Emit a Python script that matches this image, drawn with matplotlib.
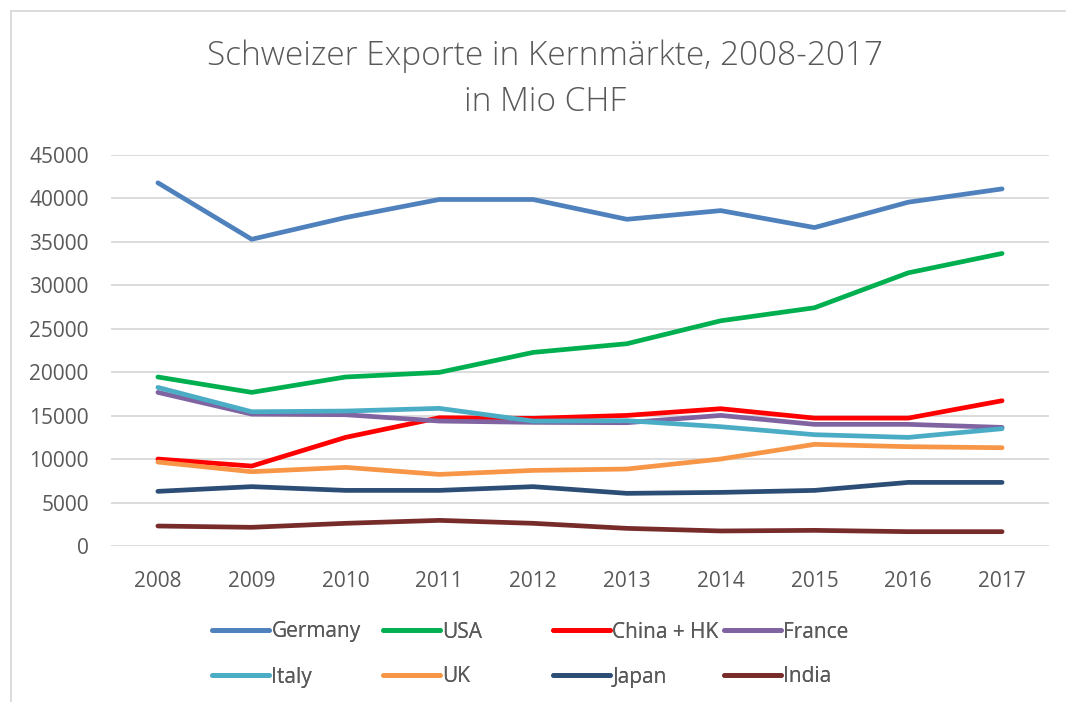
import matplotlib
matplotlib.use('Agg')
import matplotlib.pyplot as plt
from matplotlib.patches import Rectangle

plt.rcParams['font.family'] = ['Open Sans', 'DejaVu Sans']

# data (Mio CHF)
years = [2008, 2009, 2010, 2011, 2012, 2013, 2014, 2015, 2016, 2017]
germany = [41800, 35300, 37800, 39880, 39880, 37600, 38600, 36650, 39570, 41100]
usa = [19450, 17680, 19450, 19980, 22280, 23280, 25920, 27420, 31440, 33670]
china_hk = [10010, 9200, 12500, 14760, 14690, 15030, 15800, 14720, 14720, 16720]
france = [17680, 15180, 15110, 14380, 14230, 14190, 15030, 14000, 14000, 13650]
italy = [18250, 15450, 15530, 15840, 14380, 14420, 13730, 12810, 12500, 13500]
uk = [9660, 8550, 9050, 8240, 8700, 8860, 10010, 11700, 11430, 11310]
japan = [6290, 6830, 6400, 6400, 6830, 6060, 6170, 6400, 7320, 7320]
india = [2300, 2150, 2610, 2950, 2610, 2030, 1730, 1800, 1650, 1650]

series = [
    ('Germany', germany, '#4F81BD'),
    ('USA', usa, '#00B050'),
    ('China + HK', china_hk, '#FF0000'),
    ('France', france, '#8064A2'),
    ('Italy', italy, '#4BACC6'),
    ('UK', uk, '#F79646'),
    ('Japan', japan, '#2C4D75'),
    ('India', india, '#772C2A'),
]
y_ticks = [0, 5000, 10000, 15000, 20000, 25000, 30000, 35000, 40000, 45000]

W, H = 1066, 702
fig = plt.figure(figsize=(W / 100, H / 100), dpi=100)
ax = fig.add_axes([111 / W, 1 - 546 / H, (1049 - 111) / W, (546 - 155) / H])

txt = '#595959'
lines = []
for name, vals, col in series:
    ln, = ax.plot(years, vals, color=col, lw=3.4, solid_capstyle='round',
                  solid_joinstyle='round', label=name)
    lines.append(ln)

ax.set_xlim(2007.5, 2017.5)
ax.set_ylim(0, 45000)
ax.set_xticks(years)
ax.set_yticks(y_ticks)
ax.set_xticklabels([str(y) for y in years])
ax.grid(axis='y', color='#D9D9D9', lw=1.3)
ax.set_axisbelow(True)
for s in ax.spines.values():
    s.set_visible(False)
ax.tick_params(length=0, labelsize=15, colors=txt)
ax.tick_params(axis='y', pad=16)
ax.tick_params(axis='x', pad=18)

# title (two lines)
fig.text(545 / W, 1 - 56 / H, 'Schweizer Exporte in Kernmärkte, 2008-2017',
         ha='center', va='center', fontsize=24, color=txt, fontweight='light')
fig.text(545 / W, 1 - 102 / H, 'in Mio CHF',
         ha='center', va='center', fontsize=24, color=txt, fontweight='light')

# legend, 4 columns x 2 rows
col_x = [212, 382.5, 553, 723.5]
row_y = [632, 677]
for i, ln in enumerate(lines):
    lx = col_x[i % 4]
    ly = row_y[i // 4]
    leg = fig.legend(handles=[ln], loc='center left',
                     bbox_to_anchor=(lx / W, 1 - ly / H), frameon=False,
                     fontsize=15, handlelength=2.75, handletextpad=0.1,
                     borderpad=0, borderaxespad=0, labelcolor=txt)
    fig.add_artist(leg)

# chart border
fig.add_artist(Rectangle((11 / W, -0.1), 1.2, 1 - 11 / H + 0.1,
                         transform=fig.transFigure, fill=False,
                         ec='#D9D9D9', lw=1.3))

plt.savefig('out.png', dpi=100)
